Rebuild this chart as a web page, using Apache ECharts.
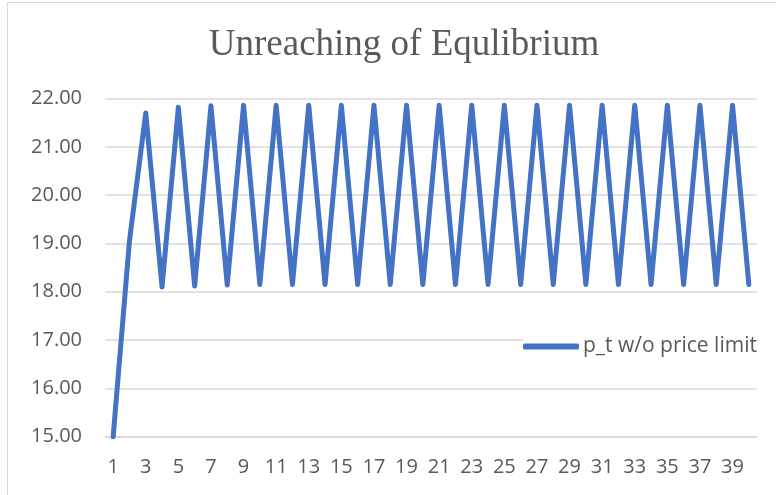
<!DOCTYPE html>
<html>
<head>
<meta charset="utf-8">
<script src="https://cdn.jsdelivr.net/npm/echarts@6/dist/echarts.min.js"></script>
<style>
html,body{margin:0;padding:0;background:#fff;}
#c{width:776px;height:495px;}
</style>
</head>
<body>
<div id="c"></div>
<script>
const titleText = "Unreaching of Equlibrium";
const seriesName = "p_t w/o price limit";
const categories = ["1","2","3","4","5","6","7","8","9","10","11","12","13","14","15","16","17","18","19","20","21","22","23","24","25","26","27","28","29","30","31","32","33","34","35","36","37","38","39","40"];
const values = [15.00, 19.05, 21.70, 18.10, 21.82, 18.12, 21.85, 18.14, 21.86, 18.15,
                21.86, 18.15, 21.86, 18.15, 21.86, 18.15, 21.86, 18.15, 21.86, 18.15,
                21.86, 18.15, 21.86, 18.15, 21.86, 18.15, 21.86, 18.15, 21.86, 18.15,
                21.86, 18.15, 21.86, 18.15, 21.86, 18.15, 21.86, 18.15, 21.86, 18.15];
const yMin = 15, yMax = 22, yStep = 1;

const chart = echarts.init(document.getElementById('c'), null, {renderer:'canvas'});
const labelFont = "Open Sans";
chart.setOption({
  animation: false,
  backgroundColor: '#ffffff',
  graphic: [{
    type: 'rect', shape: {x: 7.5, y: 2.5, width: 800, height: 600},
    style: {fill: 'none', stroke: '#d9d9d9', lineWidth: 1}, silent: true, z: -1
  }],
  title: {
    text: titleText, left: 399, top: 22, textAlign: 'center',
    textStyle: {fontFamily: 'Liberation Serif', fontSize: 37, fontWeight: 'normal', color: '#595959'}
  },
  legend: {
    show: true,
    data: [seriesName], left: 523, top: 336, itemWidth: 56, itemHeight: 6, itemGap: 4,
    icon: 'roundRect',
    padding: 0,
    backgroundColor: '#ffffff',
    itemStyle: {color: '#4472c4'},
    textStyle: {fontFamily: labelFont, fontSize: 21, color: '#595959', padding: [0, 0, 0, -1]}
  },
  grid: {left: 105, right: 19, top: 98.5, bottom: 58.3, containLabel: false},
  xAxis: {
    type: 'category', data: categories, boundaryGap: true,
    axisLine: {show: true, lineStyle: {color: '#d9d9d9', width: 1.5}},
    axisTick: {show: false},
    axisLabel: {interval: 1, margin: 21, fontFamily: labelFont, fontSize: 20, color: '#595959'}
  },
  yAxis: {
    type: 'value', min: yMin, max: yMax, interval: yStep,
    axisLine: {show: false}, axisTick: {show: false},
    splitLine: {lineStyle: {color: '#d9d9d9', width: 1.5}},
    axisLabel: {margin: 23, fontFamily: labelFont, fontSize: 20, color: '#595959',
      formatter: v => v.toFixed(2)}
  },
  series: [{
    name: seriesName, type: 'line', data: values, symbol: 'none', showSymbol: false,
    lineStyle: {color: '#4472c4', width: 5, join: 'round', cap: 'round'},
    itemStyle: {color: '#4472c4'}
  }]
});
</script>
</body>
</html>
